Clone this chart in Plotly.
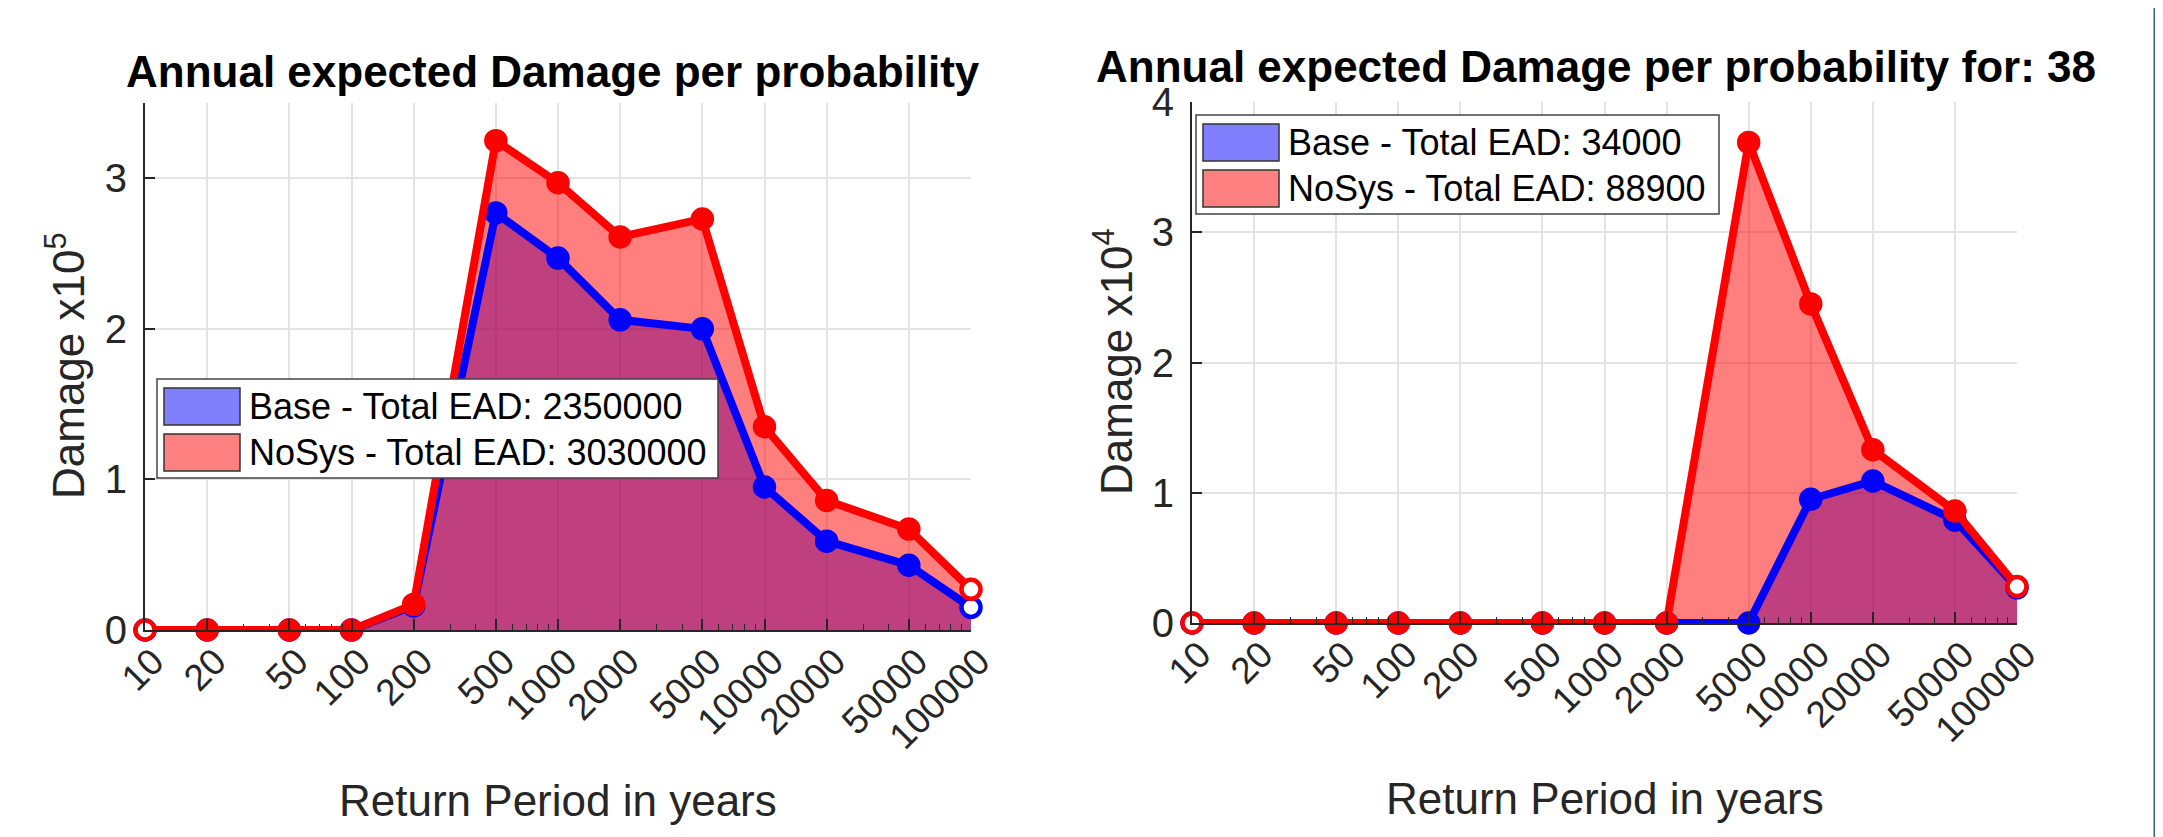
import plotly.graph_objects as go

W, H = 2163, 837
OFF = 8  # page body margin offset compensation

# ---------------- data ----------------
return_periods = [10, 20, 50, 100, 200, 500, 1000, 2000, 5000, 10000, 20000, 50000, 100000]
tick_labels = [str(v) for v in return_periods]

# left panel, damage in units of 1e5
base_left = [0, 0, 0, 0, 0.16, 2.77, 2.47, 2.06, 2.00, 0.95, 0.59, 0.43, 0.15]
nosys_left = [0, 0, 0, 0, 0.17, 3.25, 2.97, 2.61, 2.73, 1.35, 0.86, 0.67, 0.27]

# right panel, damage in units of 1e4
base_right = [0, 0, 0, 0, 0, 0, 0, 0, 0, 0.95, 1.09, 0.79, 0.27]
nosys_right = [0, 0, 0, 0, 0, 0, 0, 0, 3.69, 2.45, 1.33, 0.86, 0.28]

series_names = ["Base", "NoSys"]
ead_left = [2350000, 3030000]
ead_right = [34000, 88900]

titles = ["Annual expected Damage per probability",
          "Annual expected Damage per probability for: 38"]
xlabel = "Return Period in years"
ylabels = ["Damage x10<sup>5</sup>", "Damage x10<sup>4</sup>"]

# ---------------- style ----------------
FONT = "Liberation Sans, Arial, Helvetica, sans-serif"
AX = "#262626"
GRID = "#e3e3e3"
line_colors = ["#0000ff", "#ff0000"]
fill_colors = ["rgba(0,0,255,0.5)", "rgba(255,0,0,0.5)"]
patch_colors = ["#8080ff", "#ff8080"]


def px(x):
    return (x - OFF) / W


def py(y):
    return 1 - (y - OFF) / H


# axes boxes in pixels: (left, right, top, bottom)
boxes = [(145, 971, 103, 630), (1192, 2017, 102, 623)]
yranges = [[0, 3.5], [0, 4]]
ytickvals = [[0, 1, 2, 3], [0, 1, 2, 3, 4]]

fig = go.Figure()

panels = [
    ("x", "y", base_left, nosys_left),
    ("x2", "y2", base_right, nosys_right),
]

for xa, ya, b, n in panels:
    # fills first
    for vals, fc in zip([b, n], fill_colors):
        fig.add_trace(go.Scatter(x=return_periods, y=vals, xaxis=xa, yaxis=ya,
                                 mode="none", fill="tozeroy", fillcolor=fc,
                                 showlegend=False, hoverinfo="skip"))
    # lines on top
    for vals, lc in zip([b, n], line_colors):
        mcol = [lc] * len(vals)
        mcol[0] = "white"
        mcol[-1] = "white"
        fig.add_trace(go.Scatter(x=return_periods, y=vals, xaxis=xa, yaxis=ya,
                                 mode="lines+markers",
                                 line=dict(color=lc, width=8),
                                 marker=dict(size=19, color=mcol,
                                             line=dict(color=lc, width=4.5)),
                                 cliponaxis=False, showlegend=False))

layout = dict(
    width=W, height=H,
    margin=dict(l=0, r=0, t=0, b=0, autoexpand=False),
    paper_bgcolor="white", plot_bgcolor="white",
    font=dict(family=FONT, color=AX, size=36),
    showlegend=False,
)

for i, (l, r, t, bt) in enumerate(boxes):
    sfx = "" if i == 0 else str(i + 1)
    layout["xaxis" + sfx] = dict(
        type="log", domain=[px(l), px(r)], range=[1, 5],
        anchor="y" + sfx, automargin=False,
        tickmode="array", tickvals=return_periods, ticktext=tick_labels,
        tickangle=-45, tickfont=dict(size=37, color=AX),
        ticks="inside", ticklen=11, tickwidth=1.5, tickcolor=AX,
        showline=True, linecolor=AX, linewidth=2,
        showgrid=True, gridcolor=GRID, gridwidth=1.5,
        zeroline=False,
        minor=dict(ticks="inside", ticklen=6, tickwidth=1.2, tickcolor=AX,
                   dtick="D1", showgrid=False),
        ticklabelstandoff=-7, ticklabelshift=8,
    )
    layout["yaxis" + sfx] = dict(
        domain=[py(bt), py(t)], range=yranges[i], anchor="x" + sfx,
        automargin=False,
        tickmode="array", tickvals=ytickvals[i],
        tickfont=dict(size=40, color=AX),
        ticks="inside", ticklen=10, tickwidth=1.5, tickcolor=AX,
        showline=True, linecolor=AX, linewidth=2,
        showgrid=True, gridcolor=GRID, gridwidth=1.5,
        zeroline=False, ticklabelstandoff=8,
    )

annotations = []
shapes = []

# titles
title_pos = [(553, 71), (1596, 67)]
for txt, (x, y) in zip(titles, title_pos):
    annotations.append(dict(text="<b>" + txt + "</b>", x=px(x), y=py(y),
                            xref="paper", yref="paper", showarrow=False,
                            xanchor="center", yanchor="middle",
                            font=dict(size=44, color="black", family=FONT)))

# x labels
for x, y in [(558, 800), (1605, 798)]:
    annotations.append(dict(text=xlabel, x=px(x), y=py(y), xref="paper", yref="paper",
                            showarrow=False, xanchor="center", yanchor="middle",
                            font=dict(size=44, color=AX, family=FONT)))

# y labels
for txt, (x, y) in zip(ylabels, [(66, 366), (1113, 362)]):
    annotations.append(dict(text=txt, x=px(x), y=py(y), xref="paper", yref="paper",
                            showarrow=False, xanchor="center", yanchor="middle",
                            textangle=-90,
                            font=dict(size=44, color=AX, family=FONT)))

# legends (drawn as boxes)
legend_geo = [(157, 718, 379, ead_left), (1196, 1719, 115, ead_right)]
for lx0, lx1, ly0, eads in legend_geo:
    shapes.append(dict(type="rect", xref="paper", yref="paper",
                       x0=px(lx0), x1=px(lx1), y0=py(ly0), y1=py(ly0 + 99),
                       fillcolor="white", line=dict(color="#444444", width=1.5),
                       layer="above"))
    for k, (name, ead) in enumerate(zip(series_names, eads)):
        top = ly0 + 9 + k * 46
        shapes.append(dict(type="rect", xref="paper", yref="paper",
                           x0=px(lx0 + 7), x1=px(lx0 + 83),
                           y0=py(top), y1=py(top + 37),
                           fillcolor=patch_colors[k],
                           line=dict(color="#333333", width=1.5), layer="above"))
        annotations.append(dict(text=f"{name} - Total EAD: {ead}",
                                x=px(lx0 + 90), y=py(top + 19),
                                xref="paper", yref="paper", showarrow=False,
                                xanchor="left", yanchor="middle",
                                font=dict(size=36, color="black", family=FONT)))

# right border line
shapes.append(dict(type="line", xref="paper", yref="paper",
                   x0=px(2156), x1=px(2156), y0=-0.05, y1=1.05,
                   line=dict(color="#3b5e8c", width=5)))

layout["annotations"] = annotations
layout["shapes"] = shapes
fig.update_layout(**layout)

fig.write_html("out.html")
